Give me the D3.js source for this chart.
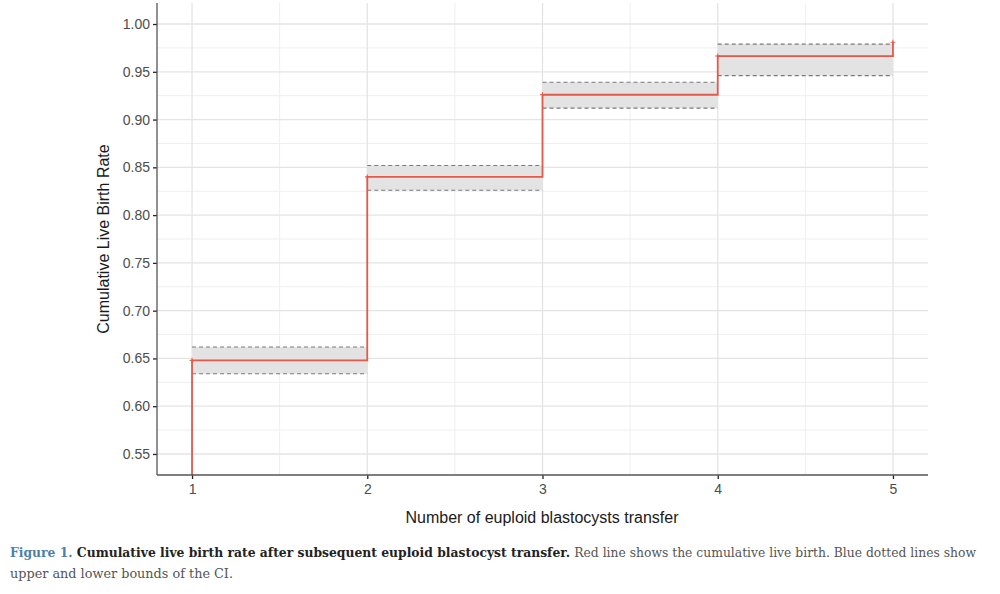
<!DOCTYPE html>
<html><head><meta charset="utf-8">
<script src="https://cdn.jsdelivr.net/npm/d3@7"></script>
<style>body{margin:0;background:#fff;} svg{display:block;}</style>
</head><body>
<svg id="c" width="1000" height="594"></svg>
<script>
// Data
const transfers = [1, 2, 3, 4, 5];
const cumRate   = [0.648, 0.840, 0.926, 0.9665, 0.981];
const upperCI   = [0.662, 0.852, 0.939, 0.979];
const lowerCI   = [0.634, 0.826, 0.912, 0.946];
const yTicks    = [0.55, 0.60, 0.65, 0.70, 0.75, 0.80, 0.85, 0.90, 0.95, 1.00];
const xTicks    = [1, 2, 3, 4, 5];

const svg = d3.select("#c");
const L = 157, R = 928, T = 3, B = 475;
const x = d3.scaleLinear().domain([0.8, 5.2]).range([L, R]);
const y = d3.scaleLinear().domain([0.528, 1.022]).range([B, T]);

const grid = svg.append("g");
const xMinor = d3.range(1.5, 5, 1);
const yMinor = d3.range(0.575, 1.0, 0.05);
grid.selectAll(".xm").data(xMinor).join("line")
  .attr("x1", d => x(d)).attr("x2", d => x(d)).attr("y1", T).attr("y2", B)
  .attr("stroke", "#efefef").attr("stroke-width", 1);
grid.selectAll(".ym").data(yMinor).join("line")
  .attr("x1", L).attr("x2", R).attr("y1", d => y(d)).attr("y2", d => y(d))
  .attr("stroke", "#efefef").attr("stroke-width", 1);
grid.selectAll(".xM").data(xTicks).join("line")
  .attr("x1", d => x(d)).attr("x2", d => x(d)).attr("y1", T).attr("y2", B)
  .attr("stroke", "#e4e4e4").attr("stroke-width", 1.3);
grid.selectAll(".yM").data(yTicks).join("line")
  .attr("x1", L).attr("x2", R).attr("y1", d => y(d)).attr("y2", d => y(d))
  .attr("stroke", "#e4e4e4").attr("stroke-width", 1.3);

// CI ribbons
const ci = upperCI.map((u, i) => ({x0: transfers[i], x1: transfers[i + 1], u, l: lowerCI[i]}));
svg.selectAll(".rib").data(ci).join("rect")
  .attr("x", d => x(d.x0)).attr("width", d => x(d.x1) - x(d.x0))
  .attr("y", d => y(d.u)).attr("height", d => y(d.l) - y(d.u))
  .attr("fill", "#e3e3e3");
["u", "l"].forEach(k => {
  svg.selectAll(".ci" + k).data(ci).join("line")
    .attr("x1", d => x(d.x0)).attr("x2", d => x(d.x1))
    .attr("y1", d => y(d[k])).attr("y2", d => y(d[k]))
    .attr("stroke", "#7a7a7a").attr("stroke-width", 1.1).attr("stroke-dasharray", "4,3");
});

// step line
const pts = [[transfers[0], y.domain()[0]]];
transfers.forEach((t, i) => {
  pts.push([t, cumRate[i]]);
  if (i < transfers.length - 1) pts.push([transfers[i + 1], cumRate[i]]);
});
svg.append("path").datum(pts)
  .attr("d", d3.line().x(d => x(d[0])).y(d => y(d[1])))
  .attr("fill", "none").attr("stroke", "#e5584a").attr("stroke-width", 1.8);
svg.selectAll(".cm").data(transfers).join("path")
  .attr("d", (d, i) => `M${x(d) - 2.5},${y(cumRate[i])}h5M${x(d)},${y(cumRate[i]) - 2.5}v5`)
  .attr("stroke", "#e5584a").attr("stroke-width", 1);

// axes
const ax = svg.append("g").attr("transform", `translate(0,${B})`)
  .call(d3.axisBottom(x).tickValues(xTicks).tickFormat(d3.format("d")).tickSize(4).tickPadding(5));
const ay = svg.append("g").attr("transform", `translate(${L},0)`)
  .call(d3.axisLeft(y).tickValues(yTicks).tickFormat(d3.format(".2f")).tickSize(4).tickPadding(3));
[ax, ay].forEach(a => {
  a.attr("font-size", null).attr("font-family", null);
  a.select(".domain").remove();
  a.selectAll(".tick line").attr("stroke", "#222").attr("stroke-width", 1.3);
  a.selectAll("text").attr("fill", "#4d4d4d")
    .style("font-family", "Liberation Sans, Arial, sans-serif").style("font-size", "14px");
});
svg.append("line").attr("x1", L).attr("x2", L).attr("y1", T).attr("y2", B).attr("stroke", "#555").attr("stroke-width", 1.3);
svg.append("line").attr("x1", L).attr("x2", R).attr("y1", B).attr("y2", B).attr("stroke", "#555").attr("stroke-width", 1.3);

// titles
svg.append("text").attr("x", 542).attr("y", 523).attr("text-anchor", "middle")
  .style("font-family", "Liberation Sans, Arial, sans-serif").style("font-size", "16px").attr("fill", "#1a1a1a")
  .text("Number of euploid blastocysts transfer");
svg.append("text").attr("transform", `translate(109,${(T + B) / 2}) rotate(-90)`).attr("text-anchor", "middle")
  .style("font-family", "Liberation Sans, Arial, sans-serif").style("font-size", "16px").attr("fill", "#1a1a1a")
  .text("Cumulative Live Birth Rate");

// caption
const cap = svg.append("text").attr("x", 10).attr("y", 557)
  .attr("textLength", 966).attr("lengthAdjust", "spacingAndGlyphs")
  .style("font-family", "DejaVu Serif, serif").style("font-size", "12.5px");
cap.append("tspan").attr("fill", "#4f7fa8").attr("font-weight", "bold").text("Figure 1. ");
cap.append("tspan").attr("fill", "#222").attr("font-weight", "bold").text("Cumulative live birth rate after subsequent euploid blastocyst transfer. ");
cap.append("tspan").attr("fill", "#555").text("Red line shows the cumulative live birth. Blue dotted lines show");
svg.append("text").attr("x", 10).attr("y", 578)
  .attr("textLength", 223).attr("lengthAdjust", "spacingAndGlyphs")
  .style("font-family", "DejaVu Serif, serif").style("font-size", "13px").attr("fill", "#555")
  .text("upper and lower bounds of the CI.");
</script>
</body></html>
